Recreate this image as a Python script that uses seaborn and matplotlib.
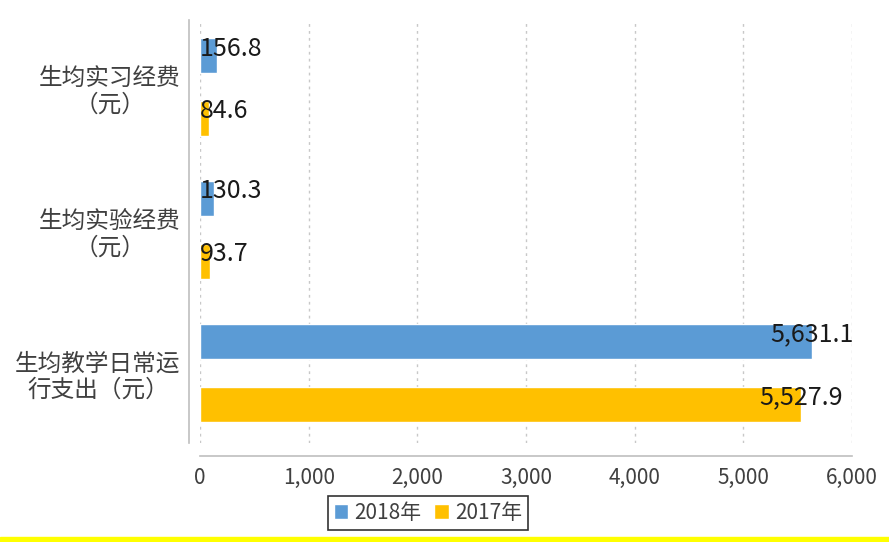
import pandas as pd
import numpy as np
import matplotlib
matplotlib.use("Agg")
import matplotlib.pyplot as plt
import seaborn as sns
from matplotlib.ticker import FuncFormatter
from matplotlib.patches import Rectangle

# datos
categorias = ["生均实习经费\n（元）", "生均实验经费\n（元）", "生均教学日常运\n行支出（元）"]
anios = ["2018年", "2017年"]
valores_2018 = [156.8, 130.3, 5631.1]
valores_2017 = [84.6, 93.7, 5527.9]
colores = ["#5B9BD5", "#FFC000"]
xticks = [0, 1000, 2000, 3000, 4000, 5000, 6000]

df = pd.DataFrame({
    "categoria": categorias * 2,
    "anio": [anios[0]] * 3 + [anios[1]] * 3,
    "valor": valores_2018 + valores_2017,
})

sns.set_style("white")
plt.rcParams["font.family"] = ["Noto Sans CJK SC", "DejaVu Sans"]

fig = plt.figure(figsize=(8.89, 5.42), dpi=100)
ax = fig.add_axes([200 / 889, 99 / 542, 652 / 889, 423 / 542])

sns.barplot(data=df, y="categoria", x="valor", hue="anio", hue_order=anios,
            order=categorias, palette=colores, saturation=1, orient="h",
            width=0.88, gap=0.44, ax=ax, legend=True)

ax.set_xlim(0, 6000)
ax.set_ylim(2.49, -0.47)
ax.set_xticks(xticks)
ax.xaxis.set_major_formatter(FuncFormatter(lambda v, p: f"{v:,.0f}"))
ax.set_xlabel("")
ax.set_ylabel("")
ax.grid(axis="x", color="#c8c8c8", linestyle=(0, (2, 3)), linewidth=1)
ax.set_axisbelow(True)

sns.despine(ax=ax, top=True, right=True)
ax.spines["left"].set_position(("outward", 8))
ax.spines["bottom"].set_position(("outward", 9))
for s in ["left", "bottom"]:
    ax.spines[s].set_color("#bfbfbf")
    ax.spines[s].set_linewidth(1.2)
ax.tick_params(axis="both", length=3, color="#bfbfbf", colors="#404040")
ax.tick_params(axis="x", labelsize=15, pad=5)
ax.tick_params(axis="y", labelsize=17, pad=3)
for t in ax.get_yticklabels():
    t.set_multialignment("center")

# etiquetas de valor
for p in ax.patches:
    w = p.get_width()
    if p.get_height() <= 0 or w <= 0:
        continue
    yc = p.get_y() + p.get_height() / 2 - 0.05
    if w < 600:
        ax.text(0, yc, f"{w:,.1f}", ha="left", va="center", fontsize=18, color="#1a1a1a")
    else:
        ax.text(w, yc, f"{w:,.1f}", ha="center", va="center", fontsize=18, color="#1a1a1a")

# leyenda abajo con borde negro
handles, labels = ax.get_legend_handles_labels()
ax.get_legend().remove()
leg = fig.legend(handles, labels, loc="center", bbox_to_anchor=(428 / 889, 1 - 513 / 542),
                 ncol=2, frameon=True, fancybox=False, fontsize=15, handlelength=0.7,
                 handleheight=0.7, handletextpad=0.3, columnspacing=0.6, borderpad=0.3)
leg.get_frame().set_edgecolor("black")
leg.get_frame().set_linewidth(1.2)
for t in leg.get_texts():
    t.set_color("#404040")

# linea amarilla inferior
fig.add_artist(Rectangle((0, 0), 1, 5 / 542, transform=fig.transFigure,
                         color="#FFFF00", zorder=10))

fig.savefig("out.png", dpi=100)
